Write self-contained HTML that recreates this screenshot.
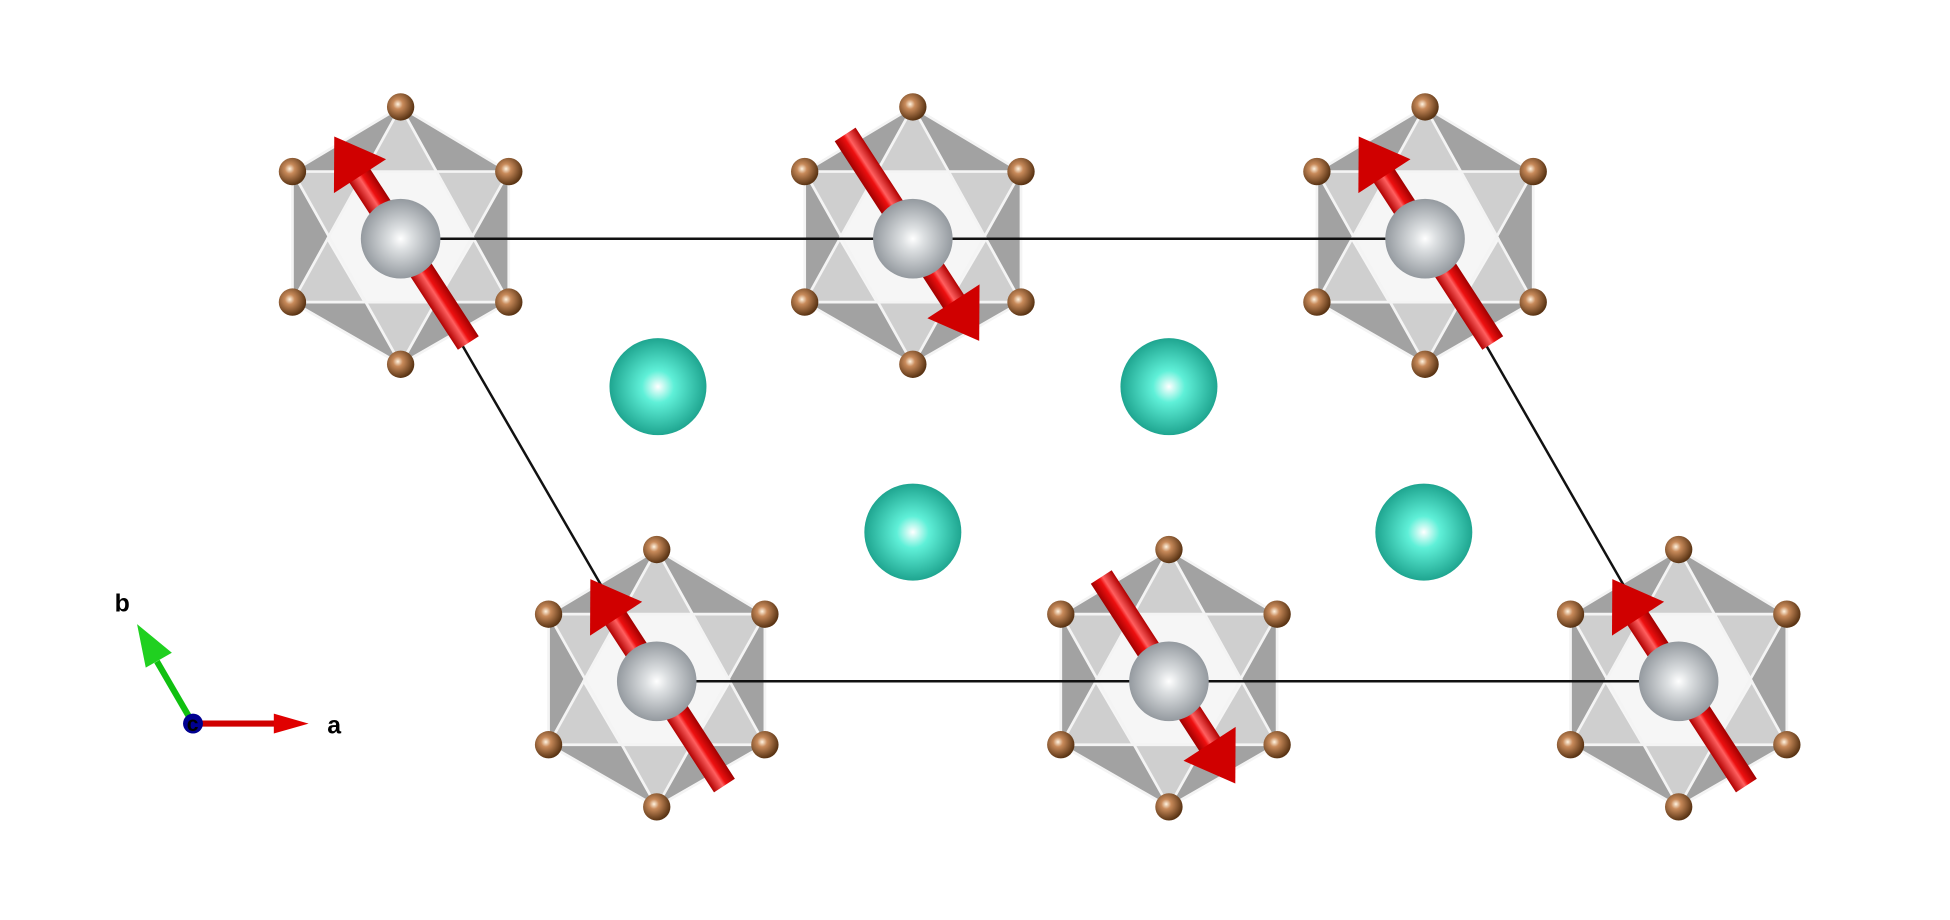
<!DOCTYPE html>
<html><head><meta charset="utf-8"><style>html,body{margin:0;padding:0;background:#fff;}svg{display:block}</style></head>
<body>
<svg width="1950" height="920" viewBox="0 0 1568 740" xmlns="http://www.w3.org/2000/svg" font-family="Liberation Sans, sans-serif">
<defs>
<radialGradient id="cu" cx="0.4" cy="0.4" r="0.6"><stop offset="0" stop-color="#fff3e0"/><stop offset="0.3" stop-color="#c88a5a"/><stop offset="1" stop-color="#5a3414"/></radialGradient>
<radialGradient id="fe" cx="0.5" cy="0.5" r="0.55"><stop offset="0" stop-color="#ffffff"/><stop offset="0.25" stop-color="#dde0e2"/><stop offset="1" stop-color="#8a9096"/></radialGradient>
<radialGradient id="cy" cx="0.5" cy="0.5" r="0.55"><stop offset="0" stop-color="#ffffff"/><stop offset="0.3" stop-color="#5ff0d8"/><stop offset="1" stop-color="#159a85"/></radialGradient>
<linearGradient id="rd" x1="0" y1="0" x2="1" y2="0"><stop offset="0" stop-color="#b00000"/><stop offset="0.45" stop-color="#ff6060"/><stop offset="0.6" stop-color="#ee1010"/><stop offset="1" stop-color="#a00000"/></linearGradient>
<g id="poly">
<polygon points="0,-106 87,-54 87,51 0,101 -87,51 -87,-54" fill="#a2a2a2"/>
<polygon points="0,-106 87,51 -87,51" fill="#cfcfcf"/>
<polygon points="0,101 87,-54 -87,-54" fill="#cfcfcf"/>
<polygon points="-30,-54 30,-54 60,0 30,51 -30,51 -60,0" fill="#f6f6f6"/>
<g stroke="#f4f4f4" stroke-width="2.2" fill="none">
<polygon points="0,-106 87,-54 87,51 0,101 -87,51 -87,-54"/>
<polygon points="0,-106 87,51 -87,51"/>
<polygon points="0,101 87,-54 -87,-54"/>
</g>
</g>
<g id="cus">
<circle cx="0" cy="-106" r="11" fill="url(#cu)"/>
<circle cx="-87" cy="-54" r="11" fill="url(#cu)"/>
<circle cx="87" cy="-54" r="11" fill="url(#cu)"/>
<circle cx="-87" cy="51" r="11" fill="url(#cu)"/>
<circle cx="87" cy="51" r="11" fill="url(#cu)"/>
<circle cx="0" cy="101" r="11" fill="url(#cu)"/>
</g>
<g id="arrUp">
<rect x="-10" y="-62" width="20" height="162" fill="url(#rd)"/>
<polygon points="-25,-60 25,-60 0,-98" fill="#d00000"/>
</g>
<g id="fe1"><circle r="32" fill="url(#fe)"/></g>
</defs>

<g transform="translate(322,192)"><use href="#poly"/></g>
<g transform="translate(734,192)"><use href="#poly"/></g>
<g transform="translate(1146,192)"><use href="#poly"/></g>
<g transform="translate(528,548)"><use href="#poly"/></g>
<g transform="translate(940,548)"><use href="#poly"/></g>
<g transform="translate(1350,548)"><use href="#poly"/></g>

<g stroke="#111" stroke-width="2">
<line x1="322" y1="192" x2="1146" y2="192"/>
<line x1="528" y1="548" x2="1350" y2="548"/>
<line x1="322" y1="192" x2="528" y2="548"/>
<line x1="1146" y1="192" x2="1350" y2="548"/>
</g>

<g transform="translate(322,192)"><use href="#cus"/><use href="#arrUp" transform="rotate(-33)"/><use href="#fe1"/></g>
<g transform="translate(734,192)"><use href="#cus"/><use href="#arrUp" transform="rotate(147)"/><use href="#fe1"/></g>
<g transform="translate(1146,192)"><use href="#cus"/><use href="#arrUp" transform="rotate(-33)"/><use href="#fe1"/></g>
<g transform="translate(528,548)"><use href="#cus"/><use href="#arrUp" transform="rotate(-33)"/><use href="#fe1"/></g>
<g transform="translate(940,548)"><use href="#cus"/><use href="#arrUp" transform="rotate(147)"/><use href="#fe1"/></g>
<g transform="translate(1350,548)"><use href="#cus"/><use href="#arrUp" transform="rotate(-33)"/><use href="#fe1"/></g>

<circle cx="529" cy="311" r="39" fill="url(#cy)"/>
<circle cx="940" cy="311" r="39" fill="url(#cy)"/>
<circle cx="734" cy="428" r="39" fill="url(#cy)"/>
<circle cx="1145" cy="428" r="39" fill="url(#cy)"/>

<line x1="155" y1="582" x2="222" y2="582" stroke="#d00000" stroke-width="5"/>
<polygon points="220,574 248,582 220,590" fill="#e00000"/>
<line x1="155" y1="582" x2="126" y2="532" stroke="#10c010" stroke-width="5"/>
<polygon points="117,537 138,525 110,502" fill="#20d020"/>
<circle cx="155" cy="582" r="8" fill="#000090"/>
<text x="150" y="588" font-size="17" font-weight="bold" fill="#000">c</text>
<text x="263" y="590" font-size="20" font-weight="bold" fill="#000">a</text>
<text x="92" y="492" font-size="20" font-weight="bold" fill="#000">b</text>
</svg>
</body></html>
